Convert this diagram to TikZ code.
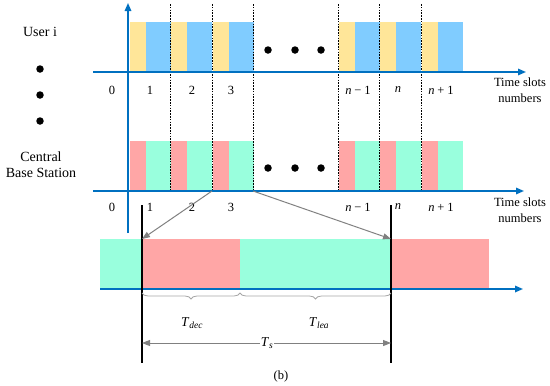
\documentclass[tikz,border=0pt]{standalone}
\usepackage{fontspec}
\setmainfont{Liberation Serif}
\usetikzlibrary{arrows.meta,decorations.pathreplacing}
\definecolor{axblue}{HTML}{0070C0}
\definecolor{ylw}{HTML}{FFE699}
\definecolor{blu}{HTML}{80CCFF}
\definecolor{pnk}{HTML}{FFA6A6}
\definecolor{grn}{HTML}{99FFDD}
\definecolor{gry}{HTML}{808080}
\newcommand{\mminus}{\hspace{0.22em}−\hspace{0.22em}}
\newcommand{\mplus}{\hspace{0.22em}+\hspace{0.22em}}
\begin{document}
\begin{tikzpicture}[x=1pt,y=-1pt,
  axis/.style={draw=axblue, line width=1.6pt, -{Triangle[length=8pt,width=6.5pt]}},
  slotline/.style={draw=black, line width=0.6pt, dash pattern=on 1.6pt off 1.2pt},
  bigline/.style={draw=black, line width=1.2pt},
  grayarrow/.style={draw=gry, line width=1pt, -{Triangle[length=8pt,width=6pt]}},
  graybrace/.style={draw=gry!70, line width=0.8pt, decorate, decoration={brace, mirror, amplitude=6pt}},
  side/.style={font=\fontsize{14}{16}\selectfont, inner sep=0pt, align=center},
  num/.style={font=\fontsize{12.5}{14}\selectfont, inner sep=0pt},
  tsn/.style={font=\fontsize{12.5}{15.5}\selectfont, inner sep=0pt, align=center},
  tlab/.style={font=\fontsize{13.5}{15}\selectfont, inner sep=0pt},
  dot/.style={circle, fill=black, inner sep=0pt, minimum size=7.5pt}]
\useasboundingbox (0,0) rectangle (550,386);

% slot bars
\foreach \s in {129,170,212,338,379,421} {
  \fill[ylw] (\s+1,22) rectangle (\s+17,72);
  \fill[blu] (\s+17,22) rectangle (\s+41.5,72);
  \fill[pnk] (\s+1,141) rectangle (\s+17,191);
  \fill[grn] (\s+17,141) rectangle (\s+41.5,191);
}
% dashed slot boundaries
\foreach \s in {170,212,253,338,379,421} {
  \draw[slotline] (\s,4) -- (\s,191);
}

% zoomed bar
\fill[grn] (100,239) rectangle (142,289);
\fill[pnk] (142,239) rectangle (240,289);
\fill[grn] (240,239) rectangle (391,289);
\fill[pnk] (391,239) rectangle (489,289);

% axes
\coordinate (ax1s) at (93,72);   \coordinate (ax1e) at (526,72);
\coordinate (ax2s) at (93,191);  \coordinate (ax2e) at (524,191);
\coordinate (axvs) at (128,233); \coordinate (axve) at (128,3);
\coordinate (ax3s) at (100,289); \coordinate (ax3e) at (523,289);
\draw[axis] (ax1s) -- (ax1e);
\draw[axis] (ax2s) -- (ax2e);
\draw[axis] (axvs) -- (axve);
\draw[axis] (ax3s) -- (ax3e);

% side labels
\node[side] (user) at (40,32) {User i};
\node[dot] (ld1) at (40,69) {};
\node[dot] (ld2) at (40,95) {};
\node[dot] (ld3) at (40,121) {};
\node[side] (bs) at (41,165) {Central\\Base Station};

% plot dots
\node[dot] (td1) at (268,50) {};
\node[dot] (td2) at (295,50) {};
\node[dot] (td3) at (321,50) {};
\node[dot] (bd1) at (268,168) {};
\node[dot] (bd2) at (295,168) {};
\node[dot] (bd3) at (321,168) {};

% slot numbers
\foreach \y/\r in {90/t,207/b} {
  \node[num] (\r0) at (112,\y) {0};
  \node[num] (\r1) at (150,\y) {1};
  \node[num] (\r2) at (192,\y) {2};
  \node[num] (\r3) at (231,\y) {3};
  \node[num] (\r4) at (358,\y) {\textit{n}\mminus1};
  \node[num] (\r5) at (398,\y) {\textit{n}};
  \node[num] (\r6) at (441,\y) {\textit{n}\mplus1};
}
\node[tsn] (ts1) at (520,90) {Time slots\\numbers};
\node[tsn] (ts2) at (520,210) {Time slots\\numbers};

% black boundary lines
\coordinate (l1t) at (142,205); \coordinate (l1b) at (142,363);
\coordinate (l2t) at (391,205); \coordinate (l2b) at (391,363);
\draw[bigline] (l1t) -- (l1b);
\draw[bigline] (l2t) -- (l2b);

% zoom arrows
\coordinate (z1) at (212,191); \coordinate (z1e) at (142,239);
\coordinate (z2) at (253,191); \coordinate (z2e) at (391,239);
\draw[grayarrow] (z1) -- (z1e);
\draw[grayarrow] (z2) -- (z2e);

% braces
\coordinate (b1) at (142,293); \coordinate (b2) at (240,293); \coordinate (b3) at (391,293);
\draw[graybrace] (b1) -- (b2);
\draw[graybrace] (b2) -- (b3);
\node[tlab] (tdec) at (192,323) {\textit{T}\textsubscript{\textit{dec}}};
\node[tlab] (tlea) at (319,323) {\textit{T}\textsubscript{\textit{lea}}};

% Ts arrow
\coordinate (s1) at (142,343); \coordinate (s2) at (391,343);
\draw[draw=gry, line width=1pt, {Triangle[length=8pt,width=6pt]}-{Triangle[length=8pt,width=6pt]}] (s1) -- (s2);
\node[tlab, fill=white, inner sep=1pt] (tsl) at (267,343) {\textit{T}\textsubscript{\textit{s}}};

\node[num] (cap) at (281,376) {(b)};
\end{tikzpicture}
\end{document}
